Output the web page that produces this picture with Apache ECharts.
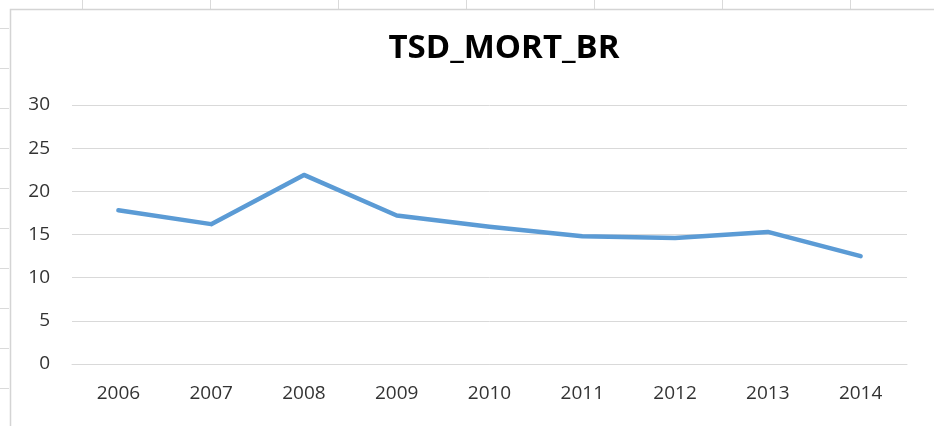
<!DOCTYPE html>
<html>
<head>
<meta charset="utf-8">
<script src="https://cdn.jsdelivr.net/npm/echarts@6/dist/echarts.min.js"></script>
<style>
html,body{margin:0;padding:0;background:#fff;}
#chart{width:934px;height:426px;}
</style>
</head>
<body>
<div id="chart"></div>
<script>
var titleText = 'TSD_MORT_BR';
var years = ['2006','2007','2008','2009','2010','2011','2012','2013','2014'];
var values = [17.8, 16.2, 21.9, 17.2, 15.9, 14.8, 14.6, 15.3, 12.5];
var yTicks = [0, 5, 10, 15, 20, 25, 30];

var chart = echarts.init(document.getElementById('chart'), null, {renderer:'canvas'});

// spreadsheet background cell lines (decoration only)
var deco = [];
var gridColor = '#dadada';
[82, 210, 338, 466, 594, 722, 850].forEach(function(x){
  deco.push({type:'line', shape:{x1:x+0.5,y1:0,x2:x+0.5,y2:9}, style:{stroke:gridColor,lineWidth:1}, silent:true});
});
[28, 68, 108, 148, 188, 228, 268, 308, 348, 388].forEach(function(y){
  deco.push({type:'line', shape:{x1:0,y1:y+0.5,x2:9,y2:y+0.5}, style:{stroke:gridColor,lineWidth:1}, silent:true});
});
deco.push({type:'polyline', shape:{points:[[10.5,426],[10.5,9.5],[934,9.5]]}, style:{stroke:'#d4d4d4',lineWidth:1.5,fill:null}, silent:true});

chart.setOption({
  backgroundColor:'#ffffff',
  animation:false,
  graphic: deco,
  title:{
    text:titleText,
    left:499, top:27, textAlign:'center',
    textStyle:{fontFamily:'Open Sans', fontWeight:'bold', fontSize:33, color:'#000000'}
  },
  grid:{left:72, right:27, top:105, bottom:62, containLabel:false},
  xAxis:{
    type:'category', data:years, boundaryGap:true,
    axisLine:{show:true, lineStyle:{color:'#d9d9d9', width:1}},
    axisTick:{show:false},
    axisLabel:{fontFamily:'Open Sans', fontSize:19, color:'#333333', margin:20}
  },
  yAxis:{
    type:'value', min:yTicks[0], max:yTicks[yTicks.length-1], interval:yTicks[1]-yTicks[0],
    axisLine:{show:false}, axisTick:{show:false},
    splitLine:{lineStyle:{color:'#d9d9d9', width:1}},
    axisLabel:{fontFamily:'Open Sans', fontSize:19, color:'#333333', margin:22}
  },
  series:[{
    type:'line', data:values, symbol:'none', smooth:false,
    lineStyle:{color:'#5b9bd5', width:4.5, cap:'round', join:'round'}
  }]
});
</script>
</body>
</html>
